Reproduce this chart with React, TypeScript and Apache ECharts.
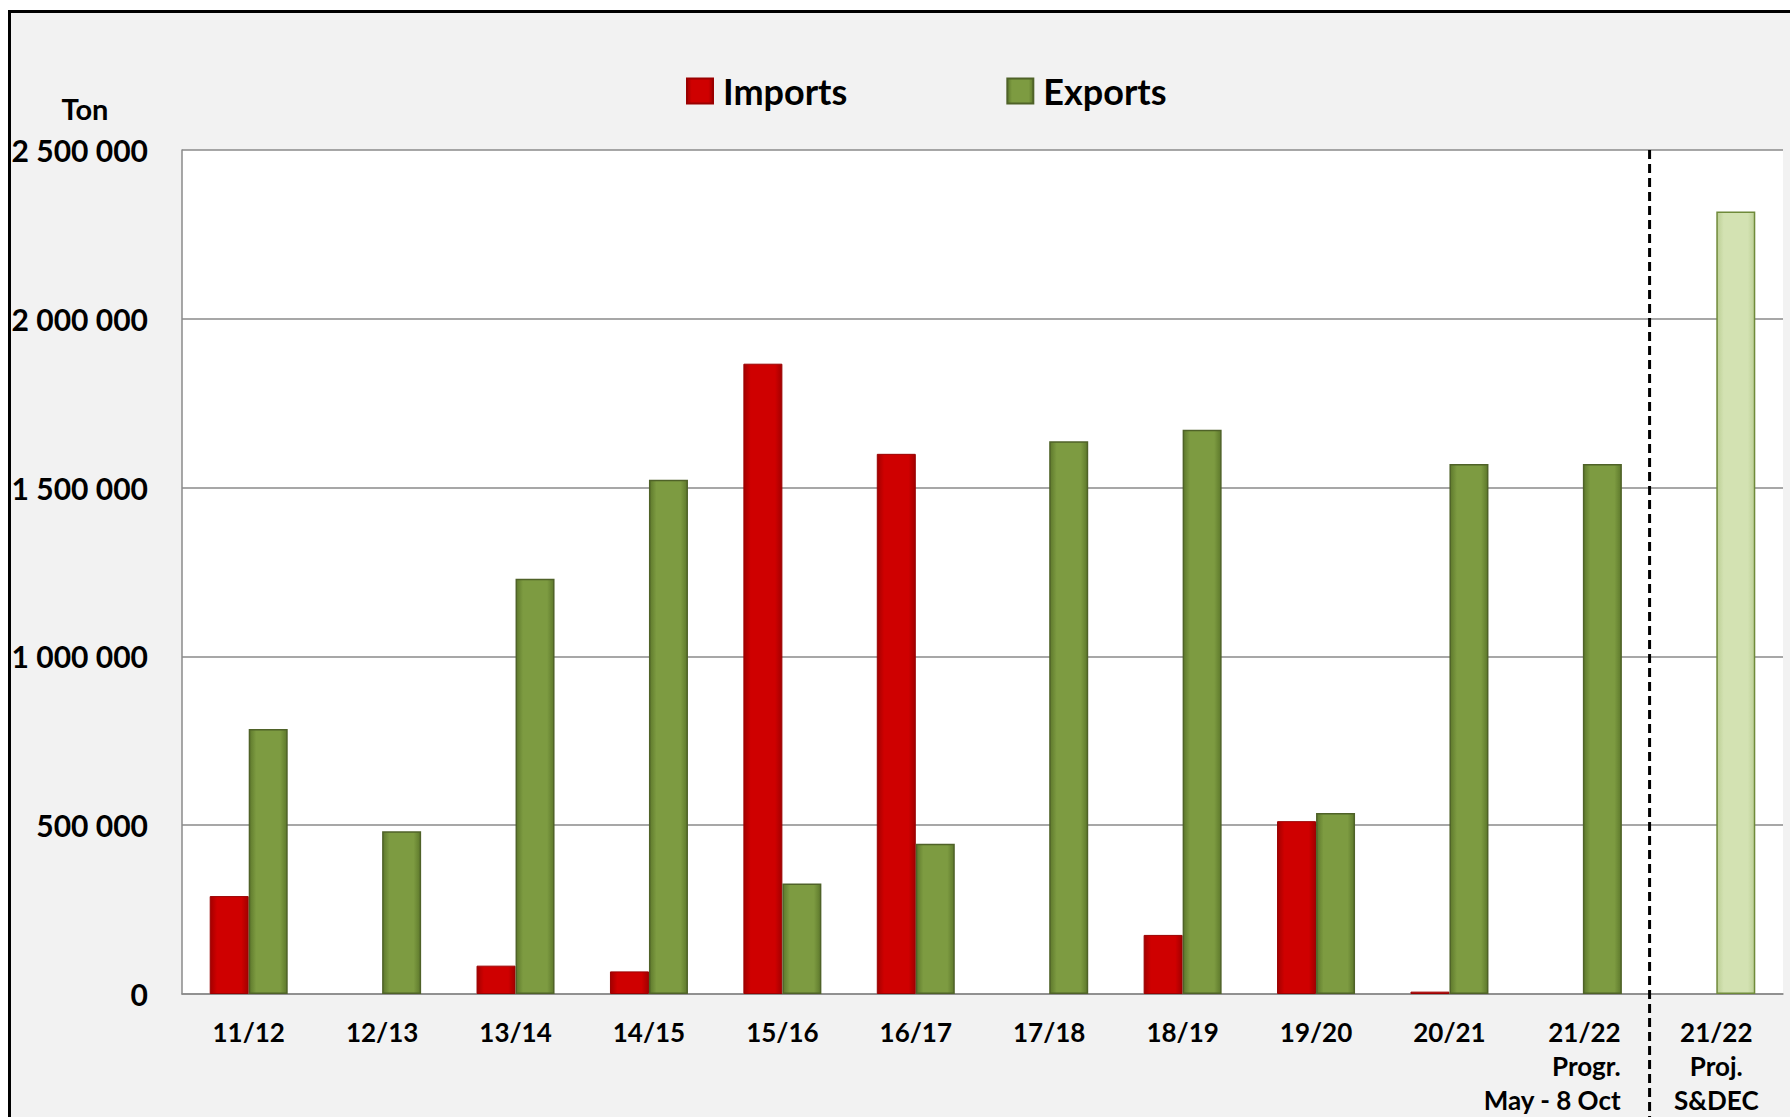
import React, { useEffect, useRef } from "react";
import * as echarts from "echarts";

const categories = [
  "11/12", "12/13", "13/14", "14/15", "15/16", "16/17", "17/18", "18/19", "19/20", "20/21",
  "21/22\nProgr.\nMay - 8 Oct", "21/22\nProj.\nS&DEC",
];
const importsValues: (number | null)[] = [
  290000, null, 84000, 67000, 1867000, 1600000, null, 175000, 512000, 7000, null, null,
];
const exportsValues = [
  785000, 482000, 1230000, 1523000, 327000, 445000, 1637000, 1671000, 536000, 1570000, 1570000, 2318000,
];
const projectedIndex = 11;
const yTicks = { min: 0, max: 2500000, interval: 500000 };

const FONT = "Lato, 'Open Sans', sans-serif";

const hGrad = (edge: string, mid: string) =>
  new echarts.graphic.LinearGradient(0, 0, 1, 0, [
    { offset: 0, color: edge },
    { offset: 0.18, color: mid },
    { offset: 0.82, color: mid },
    { offset: 1, color: edge },
  ]);

const fmt = (v: number) => String(v).replace(/\B(?=(\d{3})+(?!\d))/g, " ");

export default function App() {
  const ref = useRef<HTMLDivElement>(null);
  useEffect(() => {
    if (!ref.current) return;
    const chart = echarts.init(ref.current, undefined, { renderer: "svg" });
    const exportsData = exportsValues.map((v, i) =>
      i === projectedIndex
        ? { value: v, itemStyle: { color: hGrad("#bccf95", "#d3e2b2"), borderColor: "#6f8a3a", borderWidth: 1.5 } }
        : v
    );
    chart.setOption({
      animation: false,
      backgroundColor: "transparent",
      grid: {
        left: 182, top: 150, width: 1601, height: 847,
        show: true, backgroundColor: "#ffffff", borderWidth: 0,
      },
      legend: {
        left: 681, top: 67, itemWidth: 26, itemHeight: 25, itemGap: 159,
        icon: "rect",
        textStyle: { fontFamily: FONT, fontWeight: "bold", fontSize: 36, color: "#000", lineHeight: 38, padding: [0, 0, 0, 5] },
        data: ["Imports", "Exports"],
      },
      xAxis: {
        type: "category",
        data: categories,
        axisLine: { show: true, lineStyle: { color: "#8a8a8a", width: 1.5 } },
        axisTick: { show: false },
        axisLabel: {
          interval: 0, margin: 21,
          fontFamily: FONT, fontWeight: "bold", fontSize: 26, color: "#000", lineHeight: 34,
          formatter: (v: string, idx: number) => {
            if (idx === 10) {
              return v.split("\n").map((l) => `{r|${l}}{p| }`).join("\n");
            }
            return v;
          },
          rich: {
            r: { fontFamily: FONT, fontWeight: "bold", fontSize: 26, color: "#000", lineHeight: 34, align: "right" },
            p: { width: 62, align: "right", lineHeight: 34, fontSize: 26 },
          },
        },
      },
      yAxis: {
        type: "value",
        min: yTicks.min, max: yTicks.max, interval: yTicks.interval,
        name: "Ton",
        nameLocation: "end",
        nameGap: 27,
        nameTextStyle: { fontFamily: FONT, fontWeight: "bold", fontSize: 29, color: "#000", padding: [0, 194, 0, 0] },
        axisLine: { show: true, lineStyle: { color: "#8a8a8a", width: 1.5 } },
        axisTick: { show: false },
        splitLine: { lineStyle: { color: "#8a8a8a", width: 1.5 } },
        axisLabel: { margin: 34, fontFamily: FONT, fontWeight: "bold", fontSize: 30, color: "#000", formatter: fmt },
      },
      series: [
        {
          name: "Imports", type: "bar", data: importsValues, barWidth: 39, barGap: "0%",
          itemStyle: { color: hGrad("#a30000", "#cf0000"), borderColor: "#9a0000", borderWidth: 1 },
        },
        {
          name: "Exports", type: "bar", data: exportsData, barWidth: 39, barGap: "0%",
          itemStyle: { color: hGrad("#5e792c", "#7d9b41"), borderColor: "#4f6228", borderWidth: 1.5 },
        },
      ],
    });
    const x1 = chart.convertToPixel({ xAxisIndex: 0 }, 10) as number;
    const x2 = chart.convertToPixel({ xAxisIndex: 0 }, 11) as number;
    const sx = (x1 + x2) / 2;
    chart.setOption({
      graphic: [
        {
          type: "line", z: 100,
          shape: { x1: sx, y1: 150, x2: sx, y2: 1117 },
          style: { stroke: "#000", lineWidth: 3, lineDash: [9, 5] },
        },
      ],
    });
    return () => chart.dispose();
  }, []);
  return (
    <div style={{ position: "fixed", left: 0, top: 0, width: 1790, height: 1117, background: "#fff", overflow: "hidden" }}>
      <div style={{ position: "absolute", left: 8, top: 10, width: 1850, height: 1200, background: "#f2f2f2", borderLeft: "3px solid #000", borderTop: "3px solid #000" }} />
      <div ref={ref} style={{ position: "absolute", left: 0, top: 0, width: 1790, height: 1117 }} />
    </div>
  );
}
